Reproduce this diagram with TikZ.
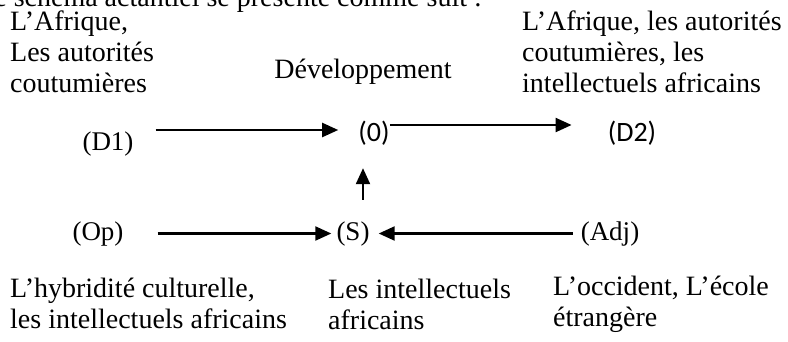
\documentclass[tikz,border=0pt]{standalone}
\usepackage{fontspec}
\setmainfont{Liberation Serif}
\newfontfamily\calib{Carlito}
\usetikzlibrary{arrows.meta}
\tikzset{
  txt/.style={inner sep=0pt, align=left, anchor=north west, font=\fontsize{28}{31}\selectfont},
  act/.style={inner sep=0pt, anchor=base, text height=18pt, text depth=5pt, font=\fontsize{27}{31}\selectfont},
  actsf/.style={act, font=\calib\fontsize{28}{31}\selectfont},
  fl/.style={line width=2.2pt, -{Triangle[length=16pt,width=14pt]}}
}
\begin{document}
\begin{tikzpicture}[x=1pt,y=-1pt]
\useasboundingbox (0,0) rectangle (788,341);
       \node [txt, anchor=base east] at (482,6) (intro) {Le schéma actantiel se présente comme suit :};
       \node [txt] at (10,10.9) (afrique) {L’Afrique,\\ Les autorités\\ coutumières};
       \node [txt, anchor=base] at (363,78) (dev) {Développement};
       \node [txt] at (522,10.9) (afriquebis) {L’Afrique, les autorités\\ coutumières, les\\ intellectuels africains};
%
       \node [act] at (108,150) (d1) {(D1)};
       \node [actsf] at (374,141) (zero) {(0)};
       \node [actsf] at (632,141) (d2) {(D2)};
       \node [act] at (98,240) (op) {(Op)};
       \node [act] at (353,240) (s) {(S)};
       \node [act] at (610,240) (adj) {(Adj)};
%
       \node [txt] at (10,277.9) (hybride) {L’hybridité culturelle,\\ les intellectuels africains};
       \node [txt] at (328,278.9) (intel) {Les intellectuels\\ africains};
       \node [txt] at (553,275.9) (occident) {L’occident, L’école\\ étrangère};
%
%
\path[fl] ([xshift=22pt,yshift=13.5pt]d1.east) edge ([xshift=-20pt,yshift=4.5pt]zero.west);
\path[fl] ([yshift=9.5pt]zero.east) edge ([xshift=-36pt,yshift=9.5pt]d2.west);
\path[fl] ([xshift=10pt,yshift=22pt]s.north) edge ([xshift=-11pt,yshift=-22pt]zero.south);
\path[fl] ([xshift=34pt]op.east) edge ([xshift=-5pt]s.west);
\path[fl] ([xshift=-8pt]adj.west) edge ([xshift=9pt]s.east);

\end{tikzpicture}
\end{document}
